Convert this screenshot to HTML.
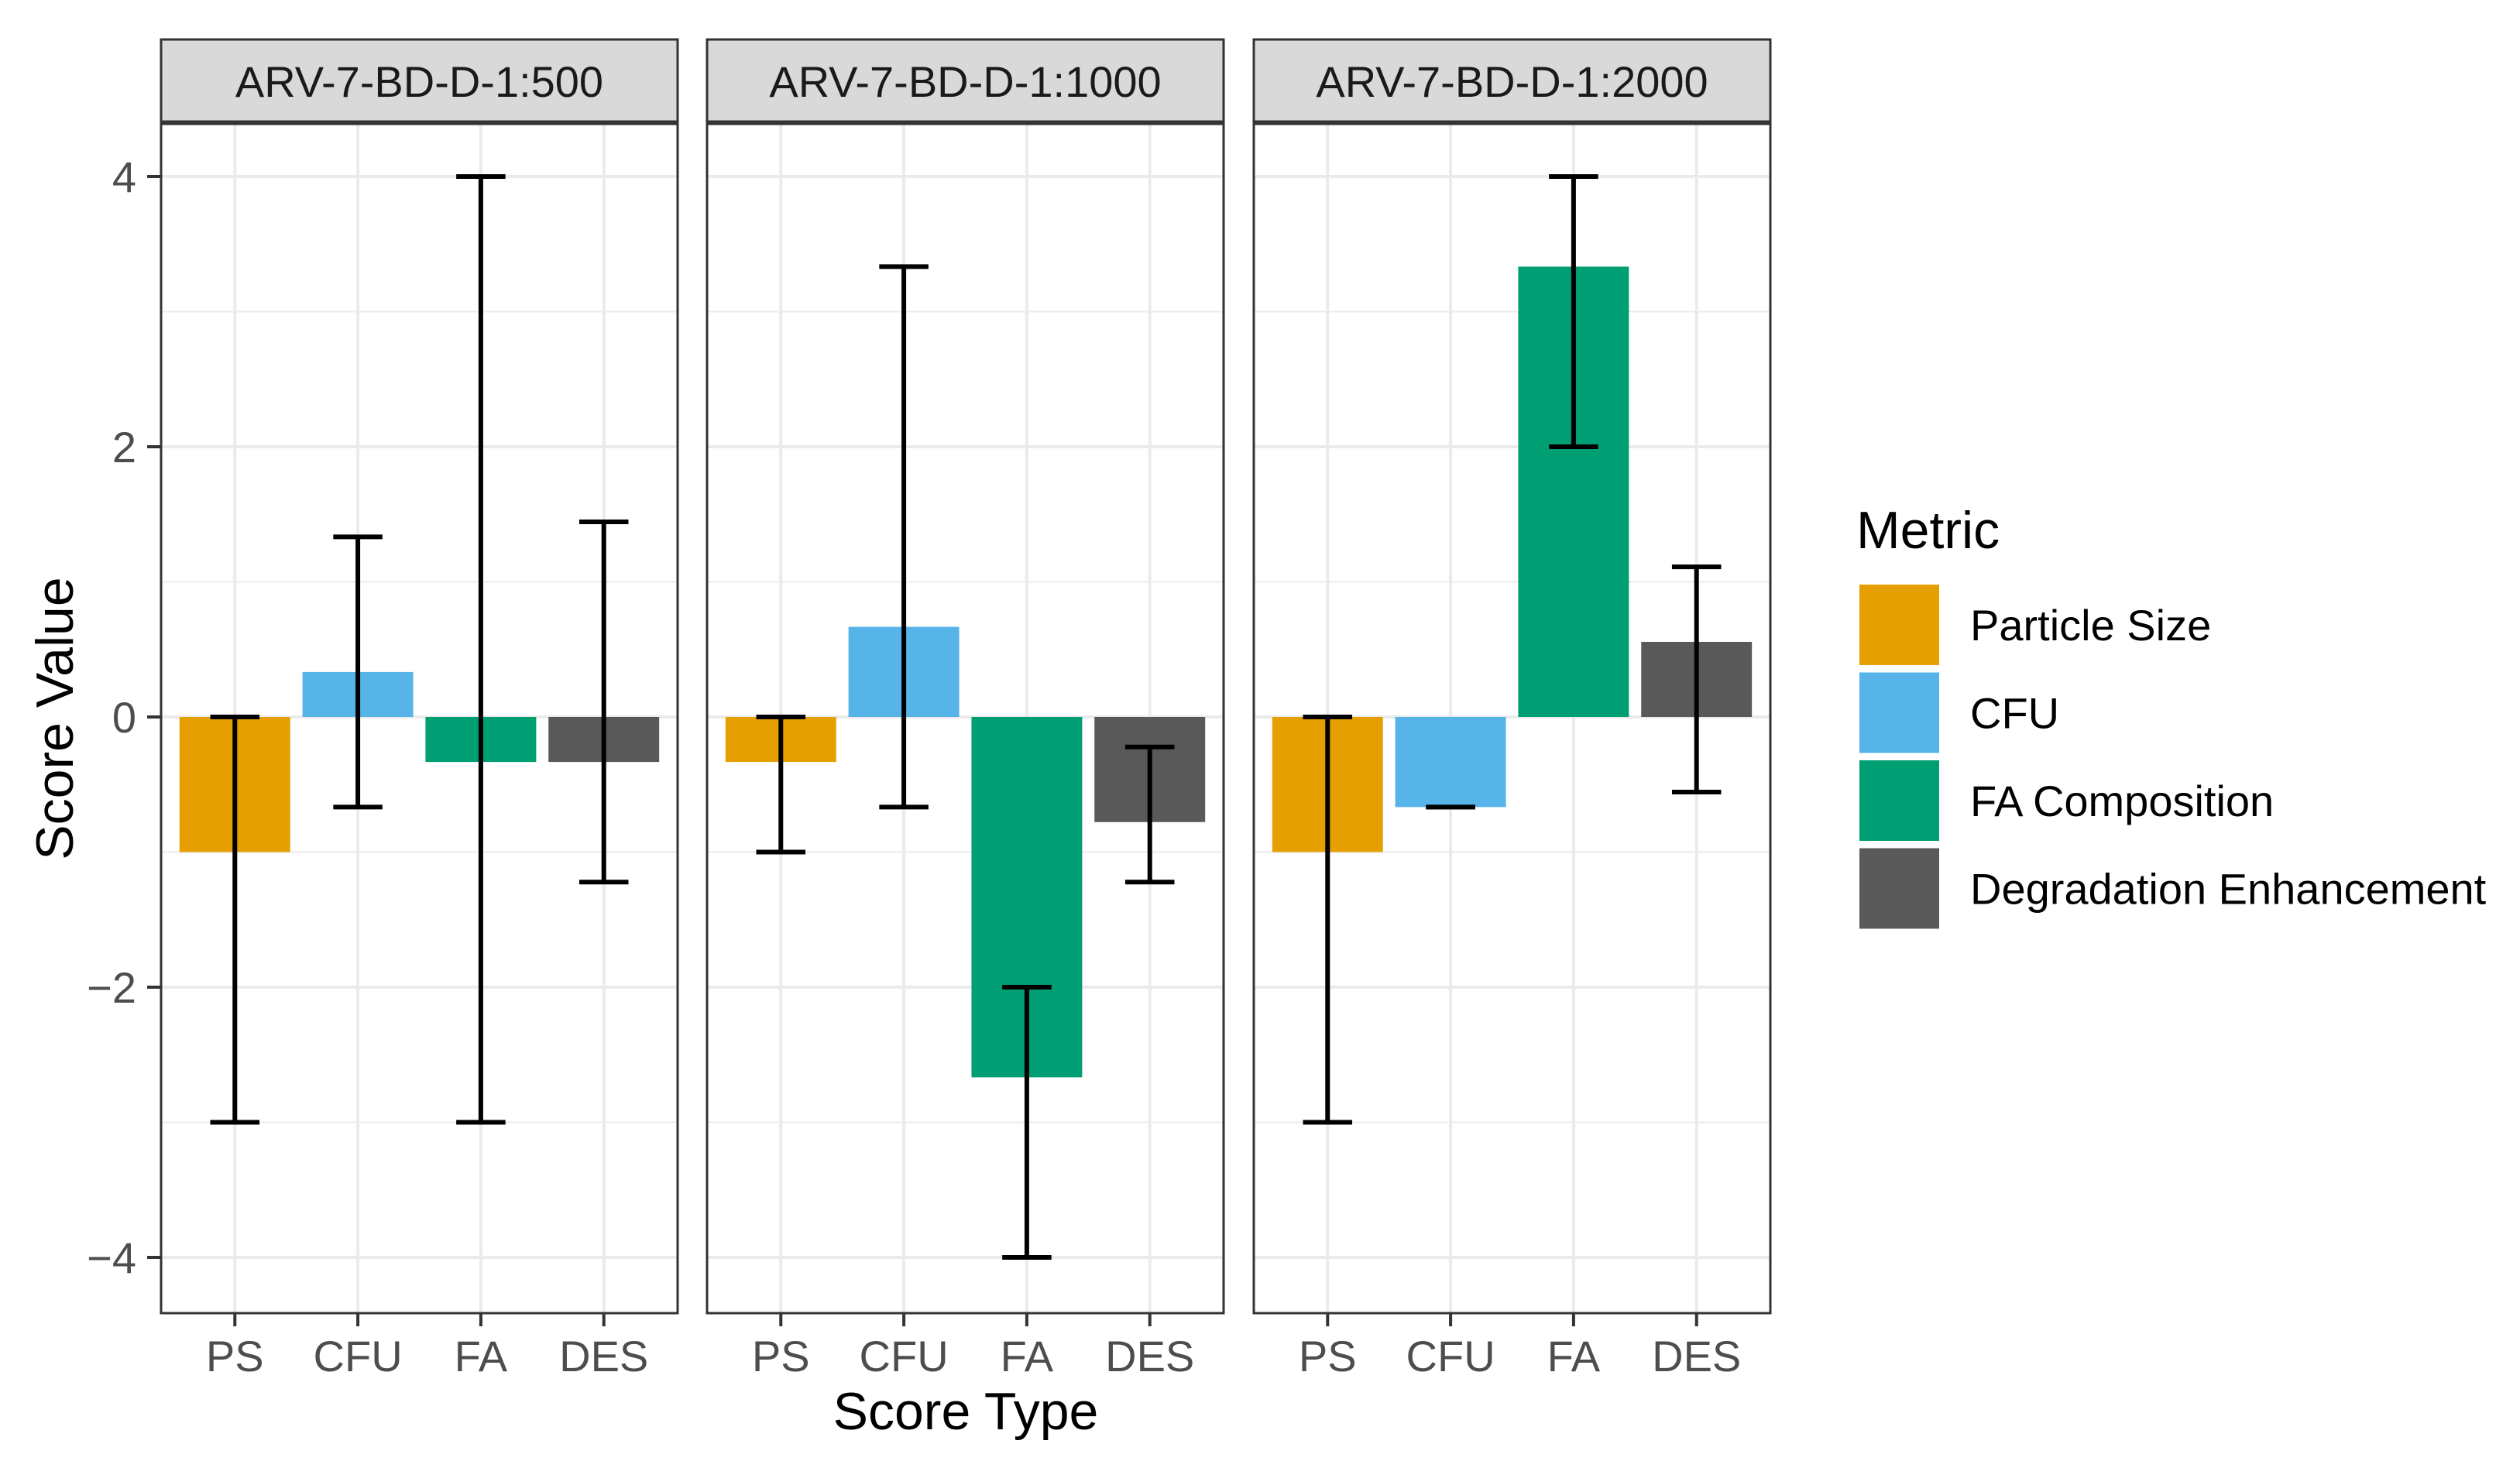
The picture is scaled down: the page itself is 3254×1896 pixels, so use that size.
<!DOCTYPE html>
<html><head><meta charset="utf-8"><style>
html,body{margin:0;padding:0;background:#fff;}
svg{display:block;font-family:"Liberation Sans",Arial,sans-serif;}
</style></head><body>
<svg id="chart" width="3254" height="1896" viewBox="0 0 3254 1896" xmlns="http://www.w3.org/2000/svg"></svg>
<script>
const panels = ["ARV-7-BD-D-1:500","ARV-7-BD-D-1:1000","ARV-7-BD-D-1:2000"];
const categories = ["PS","CFU","FA","DES"];
const metrics = ["Particle Size","CFU","FA Composition","Degradation Enhancement"];
const colors = ["#E69F00","#56B4E9","#009E73","#595959"];
const values = [[-1,0.333,-0.333,-0.333],[-0.333,0.667,-2.667,-0.778],[-1,-0.667,3.333,0.556]];
const errLow = [[-3,-0.667,-3,-1.222],[-1,-0.667,-4,-1.222],[-3,-0.667,2,-0.556]];
const errHigh = [[0,1.333,4,1.444],[0,3.333,-2,-0.222],[0,-0.667,4,1.111]];
const yTicks = [-4,-2,0,2,4];
const yMinor = [-3,-1,1,3];

const svg = document.getElementById('chart');
const NS = "http://www.w3.org/2000/svg";
function mk(tag, attrs, parent){const e=document.createElementNS(NS,tag);for(const k in attrs)e.setAttribute(k,attrs[k]);(parent||svg).appendChild(e);return e;}

const panelLeft=[208,913,1619], panelW=667, pTop=160, pBot=1696;
const y0=926, unit=174.5;
function yScale(v){return y0 - v*unit;}
function xScale(p,i){return panelLeft[p] + (i+0.6)*panelW/4.2;}
const band = panelW/4.2;

panels.forEach((name,p)=>{
  const L=panelLeft[p];
  const g=mk('g',{});
  
  
  yMinor.forEach(v=>{const l=mk('line',{x1:L,x2:L+panelW,y1:yScale(v),y2:yScale(v),stroke:'#ebebeb','stroke-width':2},g);
    });
  yTicks.forEach(v=>{const l=mk('line',{x1:L,x2:L+panelW,y1:yScale(v),y2:yScale(v),stroke:'#ebebeb','stroke-width':4},g);
    });
  categories.forEach((c,i)=>{const x=xScale(p,i);const l=mk('line',{x1:x,x2:x,y1:pTop,y2:pBot,stroke:'#ebebeb','stroke-width':4},g);
    });
  categories.forEach((c,i)=>{
    const v=values[p][i];const x=xScale(p,i);
    const r=mk('rect',{x:x-band*0.45,width:band*0.9,y:Math.min(yScale(v),yScale(0)),height:Math.abs(yScale(v)-yScale(0)),fill:colors[i]},g);
    
    
  });
  categories.forEach((c,i)=>{
    const x=xScale(p,i);const lo=yScale(errLow[p][i]),hi=yScale(errHigh[p][i]);const hw=band*0.2;
    const eg=mk('g',{stroke:'#000','stroke-width':6,fill:'none'},g);
    
    
    mk('line',{x1:x,x2:x,y1:lo,y2:hi},eg);
    mk('line',{x1:x-hw,x2:x+hw,y1:lo,y2:lo},eg);
    mk('line',{x1:x-hw,x2:x+hw,y1:hi,y2:hi},eg);
  });
  const b=mk('rect',{x:L,y:pTop,width:panelW,height:pBot-pTop,fill:'none',stroke:'#333','stroke-width':3},g);
  
  const s=mk('rect',{x:L,y:51,width:panelW,height:106,fill:'#d9d9d9',stroke:'#333','stroke-width':3},g);
  
  const st=mk('text',{x:L+panelW/2,y:125,'text-anchor':'middle','font-size':56,fill:'#1a1a1a'},g);
  st.textContent=name;
  categories.forEach((c,i)=>{const x=xScale(p,i);
    const t=mk('line',{x1:x,x2:x,y1:pBot,y2:pBot+17,stroke:'#333','stroke-width':4},g);
    
    const tl=mk('text',{x:x,y:1771,'text-anchor':'middle','font-size':56,fill:'#4d4d4d'},g);
    tl.textContent=c;
  });
});
yTicks.forEach(v=>{
  const t=mk('line',{x1:190,x2:208,y1:yScale(v),y2:yScale(v),stroke:'#333','stroke-width':4});
  
  const tl=mk('text',{x:176,y:yScale(v)+20,'text-anchor':'end','font-size':56,fill:'#4d4d4d'});
  tl.textContent=v<0?'\u2212'+Math.abs(v):String(v);
  
});
const yt=mk('text',{x:0,y:0,'text-anchor':'middle','font-size':68,fill:'#000',transform:'translate(94,928) rotate(-90)'});
yt.textContent='Score Value';
const xt=mk('text',{x:1247,y:1846,'text-anchor':'middle','font-size':68,fill:'#000'});
xt.textContent='Score Type';
const lg=mk('g',{});

const lt=mk('text',{x:2397,y:708,'font-size':68,fill:'#000'},lg);
lt.textContent='Metric';
metrics.forEach((m,i)=>{
  const top=755+i*113.5;
  const e=mk('g',{},lg);
  
  mk('rect',{x:2401,y:top,width:103,height:104,fill:colors[i]},e);
  const t=mk('text',{x:2544,y:top+72,'font-size':56,fill:'#000'},e);
  t.textContent=m;
});
</script>
</body></html>
